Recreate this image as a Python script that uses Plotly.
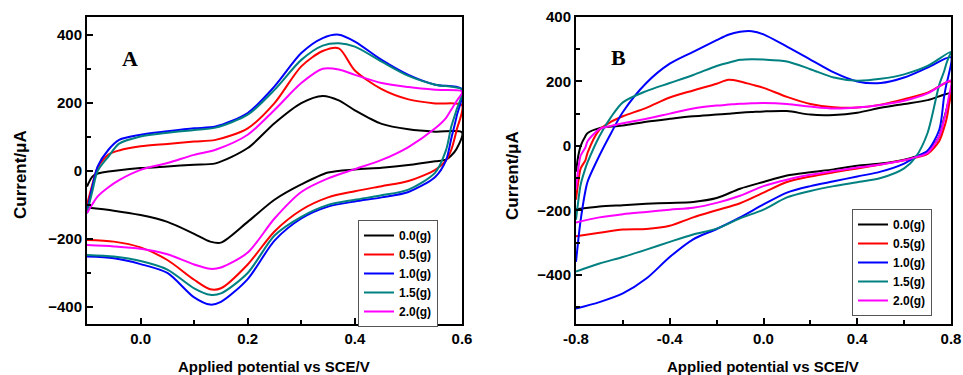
import plotly.graph_objects as go

# ---------------- Panel A data ----------------
A_FWD_X = [-0.1, -0.09, -0.08, -0.06, -0.04, 0.0, 0.05, 0.1, 0.14, 0.2, 0.25, 0.3, 0.34, 0.37, 0.4, 0.45, 0.5, 0.55, 0.6]
A_REV_X = [0.59, 0.58, 0.57, 0.55, 0.5, 0.45, 0.4, 0.35, 0.3, 0.25, 0.2, 0.15, 0.13, 0.1, 0.05, 0.0, -0.05, -0.1]

A_FWD_00 = [-46, -17, -8, -2, 2, 8, 13, 18, 22, 67, 140, 199, 220, 207, 178, 138, 122, 115, 113]
A_REV_00 = [65, 45, 33, 28, 17, 9, 4, -5, -40, -85, -150, -211, -208, -185, -150, -130, -117, -108]
A_FWD_05 = [-100, -40, 10, 48, 60, 72, 79, 86, 91, 125, 199, 307, 352, 360, 295, 240, 210, 198, 193]
A_REV_05 = [120, 62, 30, 3, -30, -45, -60, -78, -115, -178, -275, -345, -348, -320, -262, -225, -208, -203]
A_FWD_10 = [-120, -46, 13, 62, 91, 106, 116, 125, 130, 170, 248, 346, 390, 400, 380, 326, 282, 253, 240]
A_REV_10 = [160, 95, 30, -18, -62, -78, -90, -105, -140, -205, -318, -385, -393, -372, -300, -274, -257, -252]
A_FWD_15 = [-125, -60, 0, 42, 80, 101, 112, 120, 127, 165, 238, 326, 368, 375, 365, 321, 279, 253, 238]
A_REV_15 = [180, 130, 60, -5, -55, -72, -85, -100, -135, -190, -300, -360, -364, -345, -290, -265, -252, -247]
A_FWD_20 = [-124, -98, -75, -48, -27, 3, 23, 47, 62, 106, 179, 258, 300, 298, 282, 258, 246, 238, 233]
A_REV_20 = [205, 180, 155, 125, 70, 32, 5, -22, -62, -140, -240, -284, -288, -275, -245, -229, -222, -218]

# ---------------- Panel B data ----------------
B_FWD_X = [-0.8, -0.79, -0.78, -0.76, -0.75, -0.7, -0.65, -0.6, -0.5, -0.4, -0.3, -0.2, -0.15, -0.1, -0.05, 0.0, 0.1, 0.2, 0.3, 0.4, 0.5, 0.6, 0.7, 0.8]
B_REV_X = [0.79, 0.78, 0.77, 0.75, 0.7, 0.65, 0.6, 0.5, 0.4, 0.3, 0.2, 0.1, 0.0, -0.1, -0.2, -0.3, -0.4, -0.5, -0.6, -0.7, -0.8]

B_FWD_00 = [-80, -30, 0, 30, 40, 55, 60, 63, 75, 84, 92, 97, 100, 103, 105, 107, 108, 97, 96, 103, 118, 130, 142, 163]
B_REV_00 = [140, 110, 84, 30, -18, -33, -43, -55, -62, -73, -82, -92, -112, -133, -162, -174, -177, -180, -184, -188, -197]
B_FWD_05 = [-167, -110, -70, -45, -20, 50, 75, 92, 118, 150, 172, 193, 205, 200, 190, 180, 152, 130, 120, 119, 128, 145, 165, 200]
B_REV_05 = [120, 80, 55, 15, -25, -36, -45, -58, -70, -82, -95, -112, -145, -178, -200, -222, -248, -258, -260, -270, -281]
B_FWD_10 = [-360, -290, -230, -140, -110, -30, 40, 105, 195, 255, 292, 328, 345, 354, 356, 346, 308, 268, 228, 200, 195, 212, 243, 275]
B_REV_10 = [220, 190, 150, 50, -15, -34, -55, -80, -95, -110, -125, -145, -182, -222, -258, -290, -345, -412, -458, -485, -505]
B_FWD_15 = [-229, -170, -120, -70, -50, 30, 90, 135, 170, 195, 220, 248, 258, 267, 269, 268, 262, 238, 212, 202, 208, 222, 248, 292]
B_REV_15 = [275, 255, 230, 190, 40, -34, -70, -100, -113, -125, -140, -160, -198, -225, -257, -275, -298, -322, -345, -365, -390]
B_FWD_20 = [-135, -70, -30, -5, 15, 52, 62, 70, 84, 100, 116, 125, 128, 131, 132, 133, 130, 122, 116, 119, 127, 140, 163, 203]
B_REV_20 = [150, 110, 80, 30, -22, -35, -45, -58, -67, -78, -90, -105, -125, -155, -177, -192, -198, -205, -212, -222, -238]

LABELS = ["0.0(g)", "0.5(g)", "1.0(g)", "1.5(g)", "2.0(g)"]
COLORS = ["#000000", "#FF0000", "#0000FF", "#008080", "#FF00FF"]

A_X_TICKS = [0.0, 0.2, 0.4, 0.6]
A_Y_TICKS = [-400, -200, 0, 200, 400]
B_X_TICKS = [-0.8, -0.4, 0.0, 0.4, 0.8]
B_Y_TICKS = [-400, -200, 0, 200, 400]
A_X_MINOR = [-0.1, 0.1, 0.3, 0.5]
A_Y_MINOR = [-300, -100, 100, 300]
B_X_MINOR = [-0.6, -0.2, 0.2, 0.6]
B_Y_MINOR = [-500, -300, -100, 100, 300]

A_series = [(A_FWD_00, A_REV_00), (A_FWD_05, A_REV_05), (A_FWD_10, A_REV_10), (A_FWD_15, A_REV_15), (A_FWD_20, A_REV_20)]
B_series = [(B_FWD_00, B_REV_00), (B_FWD_05, B_REV_05), (B_FWD_10, B_REV_10), (B_FWD_15, B_REV_15), (B_FWD_20, B_REV_20)]

FONT = "Liberation Sans, Arial, sans-serif"

fig = go.Figure()
for i, (fw, rv) in enumerate(A_series):
    fig.add_trace(go.Scatter(x=A_FWD_X + A_REV_X, y=fw + rv, mode="lines",
                             line=dict(color=COLORS[i], width=2, shape="spline", smoothing=0.8),
                             name=LABELS[i], xaxis="x", yaxis="y", legend="legend"))
for i, (fw, rv) in enumerate(B_series):
    fig.add_trace(go.Scatter(x=B_FWD_X + B_REV_X, y=fw + rv, mode="lines",
                             line=dict(color=COLORS[i], width=2, shape="spline", smoothing=0.8),
                             name=LABELS[i], xaxis="x2", yaxis="y2", legend="legend2"))

W, H = 963, 375
def px_x(p): return p / W
def px_y(p): return 1 - p / H

def axis_common(minor_vals):
    return dict(showline=True, linecolor="black", linewidth=2, mirror=True,
                ticks="inside", ticklen=6, tickwidth=1.5, tickcolor="black",
                showgrid=False, zeroline=False, automargin=False,
                tickfont=dict(family=FONT, size=15, color="black", weight="bold"),
                minor=dict(ticks="inside", ticklen=4, tickwidth=1.5, tickcolor="black",
                           showgrid=False, tickvals=minor_vals))

ydom = [px_y(324), px_y(17)]
legend_common = dict(xanchor="left", yanchor="top", bordercolor="#555555", borderwidth=1, bgcolor="white",
                     font=dict(family=FONT, size=12, color="black", weight="bold"),
                     tracegroupgap=0, itemwidth=30)
fig.update_layout(
    template="none",
    width=W, height=H, margin=dict(l=0, r=0, t=0, b=0, autoexpand=False),
    paper_bgcolor="white", plot_bgcolor="white",
    xaxis=dict(domain=[px_x(87), px_x(462)], range=[-0.1, 0.6], tickvals=A_X_TICKS,
               ticktext=["%.1f" % v for v in A_X_TICKS], anchor="y", **axis_common(A_X_MINOR)),
    yaxis=dict(domain=ydom, range=[-450, 452], tickvals=A_Y_TICKS, anchor="x", **axis_common(A_Y_MINOR)),
    xaxis2=dict(domain=[px_x(576), px_x(951)], range=[-0.8, 0.8], tickvals=B_X_TICKS,
                ticktext=["%.1f" % v for v in B_X_TICKS], anchor="y2", **axis_common(B_X_MINOR)),
    yaxis2=dict(domain=ydom, range=[-553, 400], tickvals=B_Y_TICKS, anchor="x2", **axis_common(B_Y_MINOR)),
    legend=dict(x=px_x(358), y=px_y(220), **legend_common),
    legend2=dict(x=px_x(852), y=px_y(209), **legend_common),
)

ann_font = dict(family=FONT, size=17, color="black", weight="bold")
xt_font = dict(family=FONT, size=15, color="black", weight="bold")
serif = dict(family="Liberation Serif, DejaVu Serif, serif", size=22, color="black", weight="bold")
annotations = [
    dict(text="Applied potential vs SCE/V", x=px_x(274), y=px_y(366), font=xt_font),
    dict(text="Applied potential vs SCE/V", x=px_x(763), y=px_y(366), font=xt_font),
    dict(text="Current/μA", x=px_x(20), y=px_y(175), textangle=-90, font=ann_font),
    dict(text="Current/μA", x=px_x(512), y=px_y(176), textangle=-90, font=ann_font),
    dict(text="A", x=px_x(130), y=px_y(58), font=serif),
    dict(text="B", x=px_x(618), y=px_y(57), font=serif),
]
for a in annotations:
    a.update(xref="paper", yref="paper", showarrow=False, xanchor="center", yanchor="middle")
fig.update_layout(annotations=annotations)

fig.write_html("out.html", config={"displayModeBar": False},
               post_script="document.body.style.margin='0';document.body.style.padding='0';document.body.style.overflow='hidden';")
